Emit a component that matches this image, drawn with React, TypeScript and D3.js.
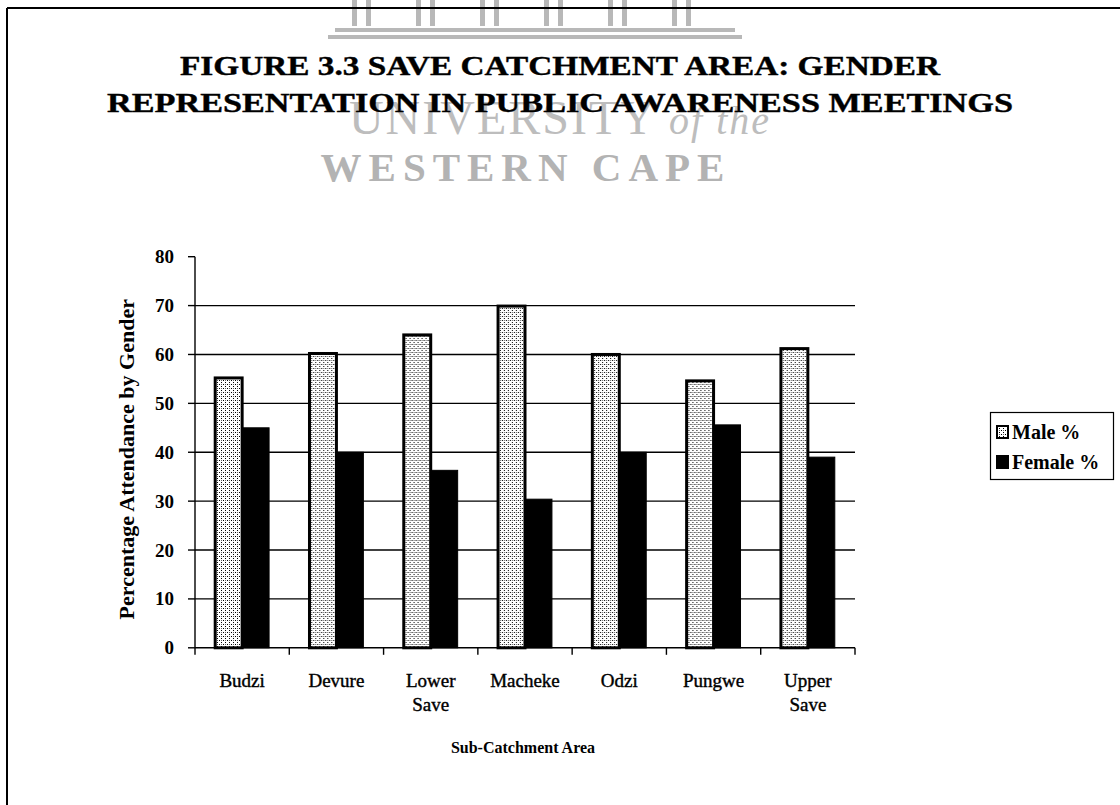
import React from "react";
import * as d3 from "d3";

const categories = ["Budzi", "Devure", "Lower Save", "Macheke", "Odzi", "Pungwe", "Upper Save"];
const seriesNames = ["Male %", "Female %"];
const maleValues = [55.2, 60.2, 64.0, 69.9, 60.0, 54.6, 61.2];
const femaleValues = [45.0, 40.0, 36.3, 30.4, 40.0, 45.6, 39.0];
const yTicks = [0, 10, 20, 30, 40, 50, 60, 70, 80];
const titleLines = ["FIGURE 3.3 SAVE CATCHMENT AREA: GENDER", "REPRESENTATION IN PUBLIC AWARENESS MEETINGS"];
const yTitle = "Percentage Attendance by Gender";
const xTitle = "Sub-Catchment Area";

const W = 1120, H = 805;
const plot = { left: 195, right: 855, top: 256.7, bottom: 647.8 };
const FONT = "'Liberation Serif', 'Times New Roman', serif";

export default function App() {
  const x0 = d3.scaleBand<string>().domain(categories).range([plot.left, plot.right]).paddingInner(0).paddingOuter(0);
  const x1 = d3.scaleBand<string>().domain(seriesNames).range([0, x0.bandwidth()]).paddingInner(0).paddingOuter(0.75);
  const y = d3.scaleLinear().domain([0, 80]).range([plot.bottom, plot.top]);
  const values = [maleValues, femaleValues];
  const boundaries = d3.range(categories.length + 1).map((i) => plot.left + i * x0.step());

  return (
    <svg width={W} height={H} style={{ position: "absolute", left: 0, top: 0, background: "#fff" }} fontFamily={FONT}>
      <defs>
        <pattern id="dots" width="4" height="4" patternUnits="userSpaceOnUse">
          <rect width="4" height="4" fill="#fff" />
          <rect x="0" y="0" width="1" height="1" fill="#000" />
          <rect x="2" y="2" width="1" height="1" fill="#000" />
          <rect x="2" y="0" width="1" height="1" fill="#666" />
        </pattern>
      </defs>
      <rect width={W} height={H} fill="#fff" />
      {/* watermark */}
      <g fill="#b8b8b8" stroke="none">
        {d3.range(6).map((i) => (
          <g key={i}>
            <rect x={352 + i * 64} y={0} width={5} height={26} />
            <rect x={366 + i * 64} y={0} width={5} height={26} />
          </g>
        ))}
        <rect x={335} y={28} width={400} height={4} />
        <rect x={328} y={35} width={414} height={4} />
      </g>
      <text x={560} y={134} textAnchor="middle" fontSize={48} fill="#bdbdbd" letterSpacing={2}>UNIVERSITY <tspan fontStyle="italic" fontSize={40}>of the</tspan></text>
      <text x={526} y={181} textAnchor="middle" fontSize={41} fontWeight="bold" fill="#b3b3b3" letterSpacing={7}>WESTERN CAPE</text>

      {/* frame */}
      <line x1={7} y1={8} x2={W} y2={8} stroke="#000" strokeWidth={2} />
      <line x1={7} y1={8} x2={7} y2={H} stroke="#000" strokeWidth={2} />

      {/* title */}
      <text x={560} y={75} textAnchor="middle" fontSize={28} fontWeight="bold" fill="#000" stroke="#000" strokeWidth={0.4} textLength={760} lengthAdjust="spacingAndGlyphs">{titleLines[0]}</text>
      <text x={560} y={112} textAnchor="middle" fontSize={28} fontWeight="bold" fill="#000" stroke="#000" strokeWidth={0.4} textLength={906} lengthAdjust="spacingAndGlyphs">{titleLines[1]}</text>

      {/* gridlines */}
      {yTicks.filter((t) => t > 0 && t < 80).map((t) => (
        <line key={t} x1={plot.left} x2={plot.right} y1={y(t)} y2={y(t)} stroke="#000" strokeWidth={1.4} />
      ))}
      {/* y ticks */}
      {yTicks.map((t) => (
        <g key={t}>
          <line x1={plot.left - 7} x2={plot.left} y1={y(t)} y2={y(t)} stroke="#000" strokeWidth={1.4} />
          <text x={plot.left - 21} y={y(t) + 6.5} textAnchor="end" fontSize={19} fontWeight="bold">{t}</text>
        </g>
      ))}

      {/* bars */}
      {categories.map((c, ci) => (
        <g key={c} transform={`translate(${x0(c)},0)`}>
          {seriesNames.map((s, si) => {
            const v = values[si][ci];
            return (
              <rect key={s} x={x1(s)!} y={y(v)} width={x1.bandwidth()} height={y(0) - y(v)}
                fill={si === 0 ? "url(#dots)" : "#000"} stroke="#000" strokeWidth={si === 0 ? 3 : 1} />
            );
          })}
        </g>
      ))}

      {/* axes */}
      <line x1={plot.left} x2={plot.left} y1={plot.top} y2={plot.bottom} stroke="#000" strokeWidth={1.4} />
      <line x1={plot.left} x2={plot.right} y1={plot.bottom} y2={plot.bottom} stroke="#000" strokeWidth={1.6} />
      {boundaries.map((bx, i) => (
        <line key={i} x1={bx} x2={bx} y1={plot.bottom} y2={plot.bottom + 7} stroke="#000" strokeWidth={1.4} />
      ))}
      {categories.map((c) => {
        const parts = c.split(" ");
        const cx = x0(c)! + x0.bandwidth() / 2;
        return (
          <text key={c} x={cx} y={687} textAnchor="middle" fontSize={19} stroke="#000" strokeWidth={0.4}>
            {parts.map((p, i) => (
              <tspan key={i} x={cx} dy={i === 0 ? 0 : 24}>{p}</tspan>
            ))}
          </text>
        );
      })}

      <text transform={`translate(134,${(plot.top + plot.bottom) / 2 + 7}) rotate(-90)`} textAnchor="middle" fontSize={22} fontWeight="bold">{yTitle}</text>
      <text x={523} y={753} textAnchor="middle" fontSize={16} fontWeight="bold">{xTitle}</text>

      {/* legend */}
      <rect x={990.5} y={412.5} width={123} height={67} fill="#fff" stroke="#000" strokeWidth={1.2} />
      {seriesNames.map((s, i) => (
        <g key={s} transform={`translate(997,${426 + i * 30})`}>
          <rect x={0} y={0} width={11} height={12} fill={i === 0 ? "url(#dots)" : "#000"} stroke="#000" strokeWidth={2} />
          <text x={15} y={12.5} fontSize={20} fontWeight="bold">{s}</text>
        </g>
      ))}
    </svg>
  );
}
